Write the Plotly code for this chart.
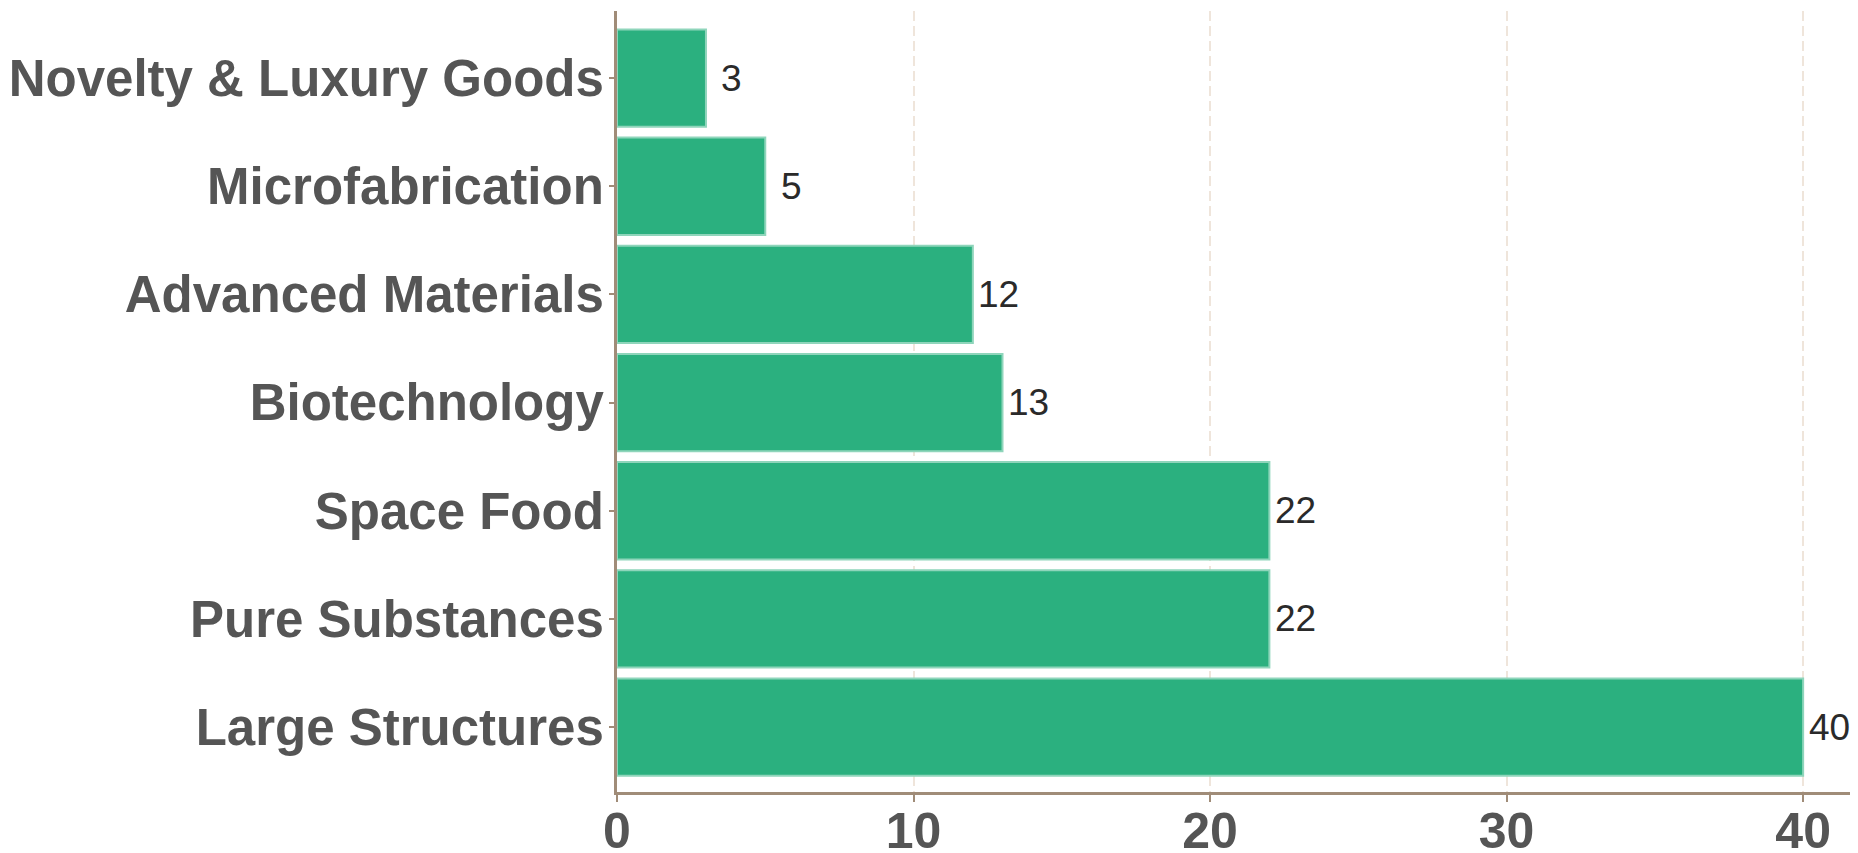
import plotly.graph_objects as go

categories = ["Large Structures", "Pure Substances", "Space Food", "Biotechnology",
              "Advanced Materials", "Microfabrication", "Novelty & Luxury Goods"]
values = [40, 22, 22, 13, 12, 5, 3]
x_ticks = [0, 10, 20, 30, 40]

BAR = "#2bb07f"
BAR_EDGE = "#8fd5bb"
AXIS = "#a08c78"
GRID = "#efe5db"
TICK_TXT = "#555555"
FONT = "Arial, Liberation Sans, sans-serif"

fig = go.Figure()
fig.add_trace(go.Bar(
    x=values, y=categories, orientation="h",
    marker=dict(color=BAR, line=dict(color=BAR_EDGE, width=2)),
    hoverinfo="x+y",
))

for v, c in zip(values, categories):
    fig.add_annotation(x=v, y=c, text=str(v), showarrow=False, xanchor="center",
                       xshift=26, font=dict(family=FONT, size=37, color="#2a2a2a"))

# page body has an 8px margin; figure sized so it ends at the window edge
fig.update_layout(
    width=1850, height=845,
    margin=dict(l=609, r=0, t=3, b=61, pad=0),
    paper_bgcolor="white", plot_bgcolor="white",
    bargap=0.1, showlegend=False,
    font=dict(family=FONT),
)
fig.update_xaxes(
    range=[0, 41.85], tickvals=x_ticks, ticktext=[str(t) for t in x_ticks],
    showline=True, linecolor=AXIS, linewidth=3,
    ticks="outside", ticklen=7, tickwidth=2, tickcolor=AXIS,
    showgrid=True, gridcolor=GRID, gridwidth=2, griddash="10px,5px",
    zeroline=False, automargin=False, ticklabelstandoff=-14,
    tickfont=dict(family=FONT, size=50, color=TICK_TXT, weight="bold"),
)
fig.update_yaxes(
    type="category", range=[-0.6, 6.62],
    showline=True, linecolor=AXIS, linewidth=3,
    ticks="outside", ticklen=5, tickwidth=2, tickcolor=AXIS,
    showgrid=False, zeroline=False, automargin=False, ticklabelstandoff=-5,
    tickfont=dict(family=FONT, size=51, color=TICK_TXT, weight="bold"),
)

fig.write_html("out.html")
